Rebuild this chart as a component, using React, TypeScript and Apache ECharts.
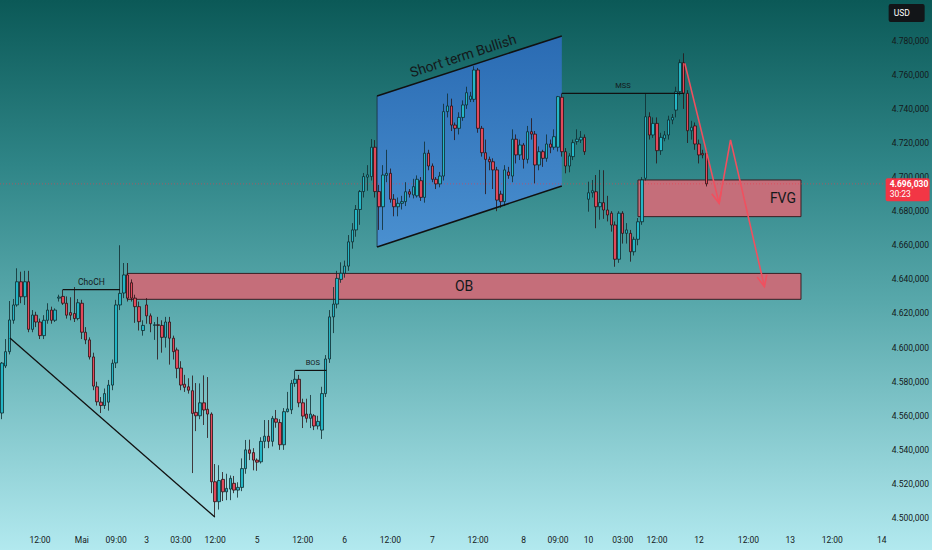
import React, { useEffect, useRef } from 'react';
import * as echarts from 'echarts';

// prices in thousands (USD)
const OPEN = [
  4561.6, 4589.2, 4597.6, 4616, 4625, 4638.6, 4629.8, 4638.6, 4610.7, 4619,
  4615, 4607, 4616, 4622, 4616, 4629, 4630, 4626, 4620.5, 4620,
  4617, 4626, 4609, 4604.5, 4594.5, 4577, 4568, 4566, 4568, 4578,
  4591, 4625, 4632, 4642.6, 4638, 4629, 4624, 4610, 4625, 4618.6,
  4613, 4613.4, 4613, 4606, 4615, 4605.5, 4598.6, 4588, 4578.5, 4577,
  4574.7, 4562, 4560, 4567.6, 4563.8, 4561, 4521.3, 4509.6, 4522.7, 4515.4,
  4517, 4520.4, 4516.4, 4518, 4529, 4540, 4538.4, 4534, 4533, 4545,
  4548, 4545, 4558.2, 4556, 4543, 4562.4, 4563.5, 4579, 4581.4, 4567.6,
  4561, 4558.5, 4560, 4554, 4551.6, 4573, 4593.3, 4618, 4625.5, 4640,
  4643.6, 4647.8, 4662, 4669, 4681, 4691.5, 4700, 4700.3, 4717.5, 4691.5,
  4682.6, 4701, 4702.2, 4687, 4682.6, 4684.6, 4685.6, 4691.4, 4689.5, 4689,
  4697.9, 4688.1, 4714, 4706.5, 4698.7, 4696, 4700.6, 4738.4, 4741.7, 4730.5,
  4728.6, 4735, 4742.3, 4745.6, 4745.6, 4762.8, 4728.6, 4714.3, 4710.4, 4709,
  4704.2, 4690, 4685.6, 4703, 4700.6, 4722.2, 4713, 4718.8, 4710.4, 4726.6,
  4725.2, 4707.1, 4714.9, 4711, 4719.4, 4717.5, 4717.5, 4746.8, 4714.9, 4706.5,
  4712, 4720.8, 4721.8, 4723.3, 4687, 4690.8, 4691.4, 4682.6, 4685, 4680.7,
  4678.8, 4671.9, 4651.8, 4678.8, 4667, 4667, 4656.2, 4663.5, 4673.8, 4699.3,
  4735.4, 4724.7, 4731.5, 4715.5, 4722.7, 4724.7, 4733.5, 4739.3, 4750.1, 4767.1,
  4749.1, 4727.2, 4730, 4719.4, 4713.9, 4713.9,
];
const CLOSE = [
  4590.9, 4597.6, 4616.2, 4625, 4638.6, 4629.8, 4638.6, 4610.7, 4619.1, 4615,
  4607, 4616, 4622, 4616, 4622, 4629.6, 4626, 4619, 4619, 4617,
  4626.3, 4609, 4604.5, 4594.5, 4577.4, 4568.2, 4566, 4573, 4578, 4590.8,
  4625, 4631.8, 4642.6, 4629, 4629, 4624, 4615.2, 4613, 4618.6, 4614,
  4613.4, 4613, 4606, 4615, 4605.5, 4597.6, 4587.8, 4578, 4576.7, 4575,
  4561.4, 4560, 4567.6, 4563.4, 4561, 4521.3, 4509.6, 4522, 4515.4, 4517.4,
  4523.3, 4516.4, 4518, 4529, 4540, 4538, 4534, 4532.8, 4545, 4548,
  4545, 4558.5, 4556.2, 4543, 4562.4, 4564, 4579, 4581.4, 4567.6, 4559.8,
  4558.5, 4561, 4554, 4556.7, 4573, 4593.3, 4618, 4625.5, 4640.6, 4643.6,
  4647.8, 4662, 4669, 4681, 4691.5, 4700.3, 4701.3, 4717.5, 4691.5, 4682.6,
  4701.2, 4702.2, 4687, 4682.6, 4684.6, 4685.6, 4691.4, 4690, 4694.4, 4698.7,
  4688.1, 4714, 4706.5, 4698.7, 4696, 4700.6, 4738.4, 4741.7, 4730.5, 4728.6,
  4735, 4742.3, 4749.5, 4747.5, 4762.8, 4728.6, 4714.3, 4710.4, 4709, 4704.2,
  4686.5, 4685.6, 4704.2, 4701, 4722.2, 4713, 4718.8, 4710.4, 4726.6, 4725.2,
  4707.1, 4714.9, 4711, 4719.4, 4717.5, 4723.7, 4747.2, 4714.9, 4706.5, 4712.4,
  4720.2, 4722.2, 4723.3, 4714.9, 4690.8, 4692, 4682.6, 4685, 4680.7, 4677.8,
  4671.9, 4651.8, 4678.8, 4667, 4669, 4656.2, 4663.5, 4673.8, 4698.3, 4735.4,
  4724.7, 4731.5, 4715.5, 4723.3, 4724.7, 4733.5, 4735, 4750.1, 4767.1, 4749.1,
  4727.2, 4729.2, 4719.4, 4713, 4713, 4696.03,
];
const HIGH = [
  4591.5, 4605, 4627.3, 4628.5, 4646.5, 4644.5, 4645, 4645, 4622, 4621,
  4617, 4619, 4626, 4624, 4623, 4631, 4634, 4630, 4629.5, 4635.5,
  4628.5, 4628, 4612, 4606, 4597, 4580, 4571, 4576, 4581, 4593,
  4628, 4660, 4649.6, 4649.6, 4640, 4631, 4627, 4616, 4629, 4620,
  4615, 4618, 4616, 4618, 4618, 4607, 4600, 4592, 4584, 4582,
  4583.6, 4579.2, 4579, 4583.7, 4582.7, 4562, 4531.7, 4531, 4527, 4526,
  4525, 4524.7, 4521, 4535, 4545.8, 4546, 4541, 4535, 4547.4, 4557.5,
  4557.5, 4559.9, 4563.4, 4558, 4564.5, 4574, 4581, 4586.6, 4584, 4570,
  4570, 4572.2, 4561, 4560, 4577, 4595.6, 4622, 4635.5, 4645, 4650,
  4651, 4666, 4673, 4683.6, 4692.4, 4702.4, 4707, 4722.3, 4721.7, 4695.4,
  4707, 4716, 4705, 4690, 4688, 4689, 4697, 4693, 4699, 4701,
  4700, 4720.8, 4716, 4708, 4700, 4703, 4743, 4749, 4746, 4732,
  4738, 4745, 4753, 4750, 4765, 4764, 4730, 4722, 4712, 4711,
  4706, 4692, 4707, 4706, 4728, 4725, 4722, 4720, 4730, 4734.5,
  4727, 4718, 4716, 4725, 4722, 4728, 4747.6, 4749, 4717, 4714,
  4722, 4728, 4727, 4725, 4697.3, 4698.3, 4701.2, 4704.2, 4704, 4689,
  4680, 4674, 4680, 4680, 4673, 4669, 4665, 4676, 4700, 4749,
  4738, 4735, 4735, 4726, 4727, 4736, 4737, 4753, 4769, 4772.6,
  4751, 4733, 4732, 4722, 4716, 4716,
];
const LOW = [
  4558, 4588, 4596, 4614, 4624, 4626, 4625, 4609, 4609, 4612,
  4605, 4605, 4614, 4614, 4615, 4627, 4625, 4617, 4616, 4615,
  4616, 4605, 4602, 4593, 4575, 4566, 4561.6, 4564, 4563, 4575,
  4588, 4622, 4629, 4627, 4627, 4614.5, 4610, 4607, 4614, 4609,
  4604.5, 4593, 4597, 4600, 4590, 4593, 4582, 4575, 4574, 4573,
  4526.4, 4551, 4558, 4554.6, 4547, 4514.6, 4500.5, 4505, 4510, 4510.5,
  4510.5, 4514.6, 4512, 4515.8, 4526, 4534, 4528, 4527.7, 4532, 4541,
  4541, 4542, 4553, 4540, 4540, 4562, 4561, 4577, 4565, 4552.8,
  4556, 4552.8, 4551.6, 4552, 4546.4, 4571, 4591, 4608.5, 4623, 4638,
  4641, 4645, 4658, 4665, 4672, 4688, 4692, 4698, 4688, 4669,
  4669, 4697, 4685, 4677, 4677, 4681, 4683, 4688, 4687.5, 4688,
  4686, 4685, 4704, 4697, 4693, 4694, 4698, 4735, 4727, 4721.7,
  4725, 4733, 4740, 4744, 4744, 4726, 4712, 4690, 4704, 4693,
  4680, 4682, 4683, 4699, 4697, 4708, 4710, 4705, 4708, 4722,
  4696.3, 4704, 4706, 4709, 4714, 4716, 4715, 4712, 4702.2, 4702.8,
  4710, 4719, 4720, 4713, 4679.7, 4688, 4670, 4675, 4675.5, 4674,
  4668, 4647.4, 4649.7, 4661, 4661, 4650.4, 4654, 4660, 4672, 4698,
  4722, 4723, 4708, 4713, 4721, 4722, 4731, 4735, 4748, 4740,
  4720, 4722, 4716, 4708, 4711, 4694.5,
];

const K = 1000;
const N_SLOTS = 232; // hourly slots incl. empty future area
const TIME_LABELS: [number, string][] = [
  [10, '12:00'], [21, 'Mai'], [30, '09:00'], [38, '3'], [47, '03:00'], [56, '12:00'],
  [67, '5'], [79, '12:00'], [90, '6'], [102, '12:00'], [113, '7'], [125, '12:00'],
  [137, '8'], [146, '09:00'], [154, '10'], [163, '03:00'], [172, '12:00'], [183, '12'],
  [196, '12:00'], [207, '13'], [218, '12:00'], [231, '14'],
];
const Y_MIN = 4493000;
const Y_MAX = 4798000;
const Y_STEP = 20000;
const LAST_PRICE = 4696.03;
const COUNTDOWN = '30:23';

// annotations: [slot index, price (thousands)]
const CHANNEL_TOP: [number, number][] = [[98.5, 4747.6], [147.0, 4782.8]];
const CHANNEL_BOTTOM: [number, number][] = [[98.5, 4659.0], [147.0, 4694.8]];
const TREND_LINE: [number, number][] = [[2.1, 4605.6], [55.9, 4500.6]];
const CHOCH = { from: 16, to: 31, price: 4634.0, label: 'ChoCH' };
const BOS = { from: 77, to: 85.2, price: 4586.6, label: 'BOS' };
const MSS = { from: 147, to: 179.1, price: 4749.1, label: 'MSS' };
const OB_ZONE = { from: 32.9, to: 209.8, top: 4643.5, bottom: 4628.3, label: 'OB' };
const FVG_ZONE = { from: 167.0, to: 209.8, top: 4698.3, bottom: 4676.8, label: 'FVG' };
const PROJECTION: [number, number][] = [[179.3, 4766.7], [188.3, 4684.6], [191.3, 4721.8], [200.2, 4635.7]];

const FONT = "'Liberation Sans Narrow', Roboto, 'DejaVu Sans', sans-serif";
const TXT = '#14191b';

function fmtPrice(v: number): string {
  const s = Math.round(v).toString();
  return s[0] + '.' + s.slice(1, 4) + ',' + s.slice(4);
}

export default function App() {
  const ref = useRef<HTMLDivElement>(null);

  useEffect(() => {
    const el = ref.current;
    if (!el) return;
    const chart = echarts.init(el, null, { renderer: 'svg' });
    const cats = Array.from({ length: N_SLOTS }, (_, i) => String(i));
    const labelMap = new Map<number, string>(TIME_LABELS);
    const data = OPEN.map((o, i) => [o * K, CLOSE[i] * K, LOW[i] * K, HIGH[i] * K]);

    chart.setOption({
      animation: false,
      backgroundColor: 'transparent',
      grid: { left: 0, right: 44, top: 10, bottom: 20 },
      xAxis: {
        type: 'category',
        data: cats,
        axisLine: { show: false },
        axisTick: { show: false },
        splitLine: { show: false },
        axisLabel: {
          interval: (idx: number) => labelMap.has(idx),
          formatter: (_v: string, idx: number) => labelMap.get(idx) ?? '',
          margin: 5,
          fontSize: 8.5,
          color: TXT,
          fontFamily: FONT,
        },
      },
      yAxis: {
        type: 'value',
        position: 'right',
        min: Y_MIN,
        max: Y_MAX,
        splitNumber: 15,
        axisLine: { show: false },
        axisTick: { show: false },
        splitLine: { show: false },
        axisLabel: {
          formatter: (v: number) => (Math.round(v) % Y_STEP === 0 ? fmtPrice(v) : ''),
          margin: 8,
          fontSize: 8.5,
          color: TXT,
          fontFamily: FONT,
        },
      },
      series: [
        {
          type: 'candlestick',
          data,
          barWidth: 3,
          itemStyle: {
            color: '#25b6c6',
            color0: '#e2495b',
            borderColor: '#0f2b2e',
            borderColor0: '#2a1114',
            borderWidth: 0.8,
          },
        },
      ],
    });

    const xa = chart.convertToPixel({ xAxisIndex: 0 }, 0) as number;
    const xb = chart.convertToPixel({ xAxisIndex: 0 }, 1) as number;
    const X = (i: number) => xa + i * (xb - xa);
    const Y = (p: number) => chart.convertToPixel({ yAxisIndex: 0 }, p * K) as number;
    const P = (pt: [number, number]) => [X(pt[0]), Y(pt[1])];

    const line = (pts: number[][], stroke = '#111', lw = 1.3, z = 5, extra: any = {}) => ({
      type: 'polyline',
      z,
      silent: true,
      shape: { points: pts },
      style: { stroke, lineWidth: lw, fill: null, ...extra },
    });
    const text = (x: number, y: number, t: string, size: number, extra: any = {}) => ({
      type: 'text',
      x,
      y,
      z: 6,
      silent: true,
      style: { text: t, fontSize: size, fill: TXT, fontFamily: FONT, align: 'center', verticalAlign: 'middle', ...extra },
    });
    const arrowHead = (from: number[], tip: number[], len = 12, spread = 0.42) => {
      const a = Math.atan2(tip[1] - from[1], tip[0] - from[0]);
      const p1 = [tip[0] - len * Math.cos(a - spread), tip[1] - len * Math.sin(a - spread)];
      const p2 = [tip[0] - len * Math.cos(a + spread), tip[1] - len * Math.sin(a + spread)];
      return [p1, tip, p2];
    };

    const ct = CHANNEL_TOP.map(P);
    const cb = CHANNEL_BOTTOM.map(P);
    const ang = Math.atan2(ct[1][1] - ct[0][1], ct[1][0] - ct[0][0]);
    const mid = [(ct[0][0] + ct[1][0]) / 2 - 3, (ct[0][1] + ct[1][1]) / 2];
    const nrm = [Math.sin(ang), -Math.cos(ang)];
    const labelPt = [mid[0] + nrm[0] * 4, mid[1] + nrm[1] * 4];

    const zoneRect = (zn: typeof OB_ZONE) => ({
      type: 'rect',
      z: 1,
      silent: true,
      shape: { x: X(zn.from), y: Y(zn.top), width: X(zn.to) - X(zn.from), height: Y(zn.bottom) - Y(zn.top) },
      style: { fill: '#c56e7a', stroke: '#3a1f24', lineWidth: 1 },
    });

    const proj = PROJECTION.map(P);
    const lastY = Y(LAST_PRICE);
    const gridRight = X(N_SLOTS - 0.5);

    const graphics: any[] = [
      // channel
      {
        type: 'polygon',
        z: 1,
        silent: true,
        shape: { points: [ct[0], ct[1], cb[1], cb[0]] },
        style: {
          fill: new echarts.graphic.LinearGradient(0, 0, 0, 1, [
            { offset: 0, color: '#2a6bb3' },
            { offset: 1, color: '#4a90d0' },
          ]),
        },
      },
      line([ct[0], cb[0]], '#1a2a3a', 0.8, 3),
      line(ct, '#111', 1.6),
      line(cb, '#111', 1.6),
      {
        type: 'text',
        x: labelPt[0],
        y: labelPt[1],
        rotation: -ang,
        z: 6,
        silent: true,
        style: { text: 'Short term Bullish', fontSize: 14, fill: TXT, fontFamily: FONT, align: 'center', verticalAlign: 'bottom' },
      },
      // trend line
      line(TREND_LINE.map(P), '#111', 1.3),
      // structure lines
      line([[X(CHOCH.from), Y(CHOCH.price)], [X(CHOCH.to), Y(CHOCH.price)]], '#111', 1.2),
      text((X(CHOCH.from) + X(CHOCH.to)) / 2, Y(CHOCH.price) - 8, CHOCH.label, 8.5),
      line([[X(BOS.from), Y(BOS.price)], [X(BOS.to), Y(BOS.price)]], '#111', 1.2),
      text((X(BOS.from) + X(BOS.to)) / 2 + 2, Y(BOS.price) - 8, BOS.label, 7.5),
      line([[X(MSS.from), Y(MSS.price)], [X(MSS.to), Y(MSS.price)]], '#111', 1.2),
      text((X(MSS.from) + X(MSS.to)) / 2, Y(MSS.price) - 8, MSS.label, 7.5),
      // zones
      zoneRect(OB_ZONE),
      text((X(OB_ZONE.from) + X(OB_ZONE.to)) / 2, (Y(OB_ZONE.top) + Y(OB_ZONE.bottom)) / 2, OB_ZONE.label, 14),
      zoneRect(FVG_ZONE),
      text(X(FVG_ZONE.to) - 5, (Y(FVG_ZONE.top) + Y(FVG_ZONE.bottom)) / 2, FVG_ZONE.label, 14, { align: 'right' }),
      // projection arrows
      line(proj, '#f0505f', 1.6, 7),
      line(arrowHead(proj[0], proj[1]), '#f0505f', 1.6, 7),
      line(arrowHead(proj[2], proj[3]), '#f0505f', 1.6, 7),
      // last price line
      line([[0, lastY], [gridRight, lastY]], 'rgba(242,54,69,0.55)', 1, 2, { lineDash: [1, 2] }),
      // price tag
      {
        type: 'rect',
        z: 9,
        silent: true,
        shape: { x: gridRight + 2, y: lastY - 5.5, width: 44, height: 23, r: 2 },
        style: { fill: '#f23645' },
      },
      {
        type: 'text', x: gridRight + 6, y: lastY, z: 10, silent: true,
        style: { text: fmtPrice(LAST_PRICE * K), fontSize: 8.5, fontWeight: 'bold', fill: '#ffffff', fontFamily: FONT, align: 'left', verticalAlign: 'middle' },
      },
      {
        type: 'text', x: gridRight + 6, y: lastY + 10.5, z: 10, silent: true,
        style: { text: COUNTDOWN, fontSize: 8.5, fill: '#ffffff', fontFamily: FONT, align: 'left', verticalAlign: 'middle' },
      },
      // currency box
      {
        type: 'rect', z: 9, silent: true,
        shape: { x: gridRight + 5, y: 4, width: 36, height: 18, r: 2 },
        style: { fill: '#121518' },
      },
      {
        type: 'text', x: gridRight + 10, y: 13, z: 10, silent: true,
        style: { text: 'USD', fontSize: 8.5, fill: '#ffffff', fontFamily: FONT, align: 'left', verticalAlign: 'middle' },
      },
    ];

    chart.setOption({ graphic: graphics });

    return () => chart.dispose();
  }, []);

  return (
    <div
      style={{
        position: 'fixed',
        left: 0,
        top: 0,
        width: 932,
        height: 550,
        background: 'linear-gradient(to bottom, #0b5957 0%, #2f8587 30%, #58a8ab 55%, #b2e9ef 100%)',
      }}
    >
      <div ref={ref} style={{ width: 932, height: 550 }} />
    </div>
  );
}
